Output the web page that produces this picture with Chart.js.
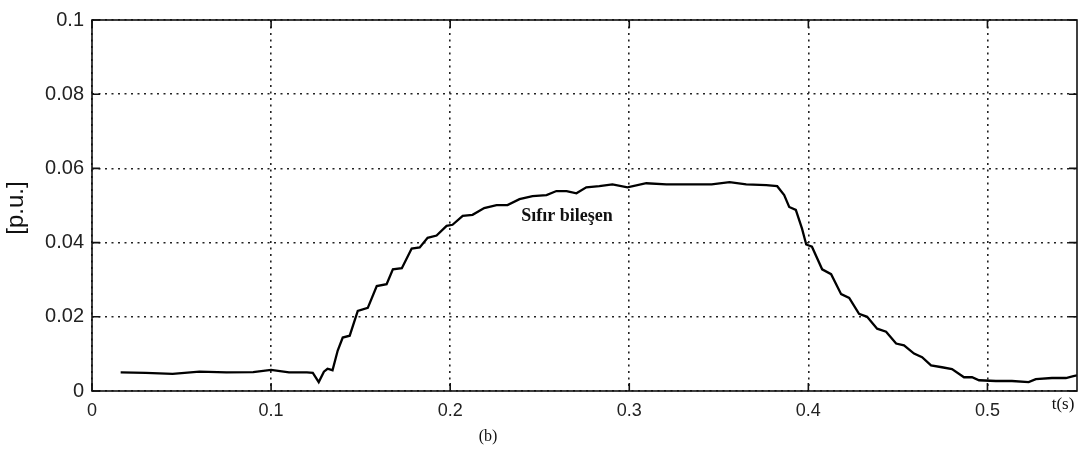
<!DOCTYPE html>
<html>
<head>
<meta charset="utf-8">
<script src="https://cdn.jsdelivr.net/npm/chart.js@4/dist/chart.umd.min.js"></script>
<style>
  html, body { margin: 0; padding: 0; background: #fff; }
  #wrap { width: 1091px; height: 458px; }
</style>
</head>
<body>
<div id="wrap"><canvas id="zeroChart" width="1091" height="458"></canvas></div>
<script>
// time (s) and zero-sequence component (p.u.)
const timeValues = [
    0.016, 0.03, 0.045, 0.06, 0.075, 0.09, 0.1, 0.11, 0.12, 0.1233,
    0.1266, 0.1295, 0.1315, 0.1343, 0.1372, 0.140, 0.1439, 0.1484, 0.154, 0.159,
    0.1645, 0.168, 0.173, 0.1785, 0.183, 0.1874, 0.1924, 0.198, 0.2013, 0.207,
    0.2125, 0.219, 0.2259, 0.232, 0.2387, 0.246, 0.2538, 0.2593, 0.265, 0.2705,
    0.276, 0.2833, 0.2906, 0.299, 0.3095, 0.3207, 0.3335, 0.346, 0.356, 0.3653,
    0.3765, 0.3826, 0.3865, 0.3893, 0.393, 0.3965, 0.3988, 0.402, 0.4077, 0.4127,
    0.4183, 0.4228, 0.4283, 0.4328, 0.4384, 0.4434, 0.449, 0.4534, 0.459, 0.4635,
    0.4685, 0.4746, 0.4802, 0.4869, 0.4914, 0.4953, 0.5047, 0.5137, 0.523, 0.527,
    0.536, 0.5438, 0.548, 0.55
];
const zeroSeq = [
    0.0050, 0.0049, 0.0046, 0.0052, 0.0050, 0.0051, 0.0057, 0.0050, 0.0050, 0.0049,
    0.0024, 0.0052, 0.0060, 0.0056, 0.0109, 0.0144, 0.0149, 0.0216, 0.0224, 0.0283,
    0.0288, 0.0328, 0.0331, 0.0384, 0.0387, 0.0413, 0.0419, 0.0445, 0.0448, 0.0472,
    0.0475, 0.0493, 0.0501, 0.0501, 0.0517, 0.0525, 0.0528, 0.0539, 0.0539, 0.0533,
    0.0549, 0.0552, 0.0557, 0.0549, 0.0560, 0.0557, 0.0557, 0.0557, 0.0563, 0.0557,
    0.0555, 0.0552, 0.0528, 0.0496, 0.0488, 0.0437, 0.0395, 0.0389, 0.0328, 0.0315,
    0.0261, 0.0251, 0.0208, 0.0200, 0.0168, 0.0160, 0.0128, 0.0123, 0.0101, 0.0091,
    0.0069, 0.0064, 0.0059, 0.0037, 0.0037, 0.0029, 0.0027, 0.0027, 0.0024, 0.0032,
    0.0035, 0.0035, 0.0040, 0.0042
];
const xTicks = [0, 0.1, 0.2, 0.3, 0.4, 0.5];
const yTicks = [0, 0.02, 0.04, 0.06, 0.08, 0.1];
const yTickLabels = ['0', '0.02', '0.04', '0.06', '0.08', '0.1'];
const xTickLabels = ['0', '0.1', '0.2', '0.3', '0.4', '0.5'];

const points = timeValues.map((t, i) => ({ x: t, y: zeroSeq[i] }));

// frame, inward ticks and loose labels like the MATLAB figure
const matlabFrame = {
    id: 'matlabFrame',
    afterDraw(chart) {
        const { ctx, chartArea: a, scales } = chart;
        const len = 8;
        ctx.save();
        ctx.strokeStyle = '#111';
        ctx.lineWidth = 1.6;
        ctx.strokeRect(a.left, a.top, a.right - a.left, a.bottom - a.top);
        ctx.beginPath();
        xTicks.forEach(v => {
            const px = scales.x.getPixelForValue(v);
            ctx.moveTo(px, a.bottom); ctx.lineTo(px, a.bottom - len);
            ctx.moveTo(px, a.top); ctx.lineTo(px, a.top + len);
        });
        yTicks.forEach(v => {
            const py = scales.y.getPixelForValue(v);
            ctx.moveTo(a.left, py); ctx.lineTo(a.left + len, py);
            ctx.moveTo(a.right, py); ctx.lineTo(a.right - len, py);
        });
        ctx.stroke();

        ctx.fillStyle = '#111';
        ctx.font = '24px "Liberation Sans", Arial, sans-serif';
        ctx.save();
        ctx.translate(16, 208);
        ctx.rotate(-Math.PI / 2);
        ctx.textAlign = 'center';
        ctx.textBaseline = 'middle';
        ctx.fillText('[p.u.]', 0, 0);
        ctx.restore();

        ctx.font = '17px "Liberation Serif", "Times New Roman", serif';
        ctx.textAlign = 'center';
        ctx.textBaseline = 'middle';
        ctx.fillText('t(s)', 1063, 405);
        ctx.font = '16px "Liberation Serif", "Times New Roman", serif';
        ctx.fillText('(b)', 488, 437);

        ctx.font = 'bold 18px "Liberation Serif", "Times New Roman", serif';
        ctx.fillText('Sıfır bileşen', 567, 216);
        ctx.restore();
    }
};

new Chart(document.getElementById('zeroChart').getContext('2d'), {
    type: 'line',
    data: {
        datasets: [{
            label: 'Sıfır bileşen',
            data: points,
            borderColor: '#000',
            borderWidth: 2.3,
            pointRadius: 0,
            tension: 0,
            fill: false
        }]
    },
    options: {
        responsive: false,
        animation: false,
        layout: { padding: { top: 16, right: 14, left: 0, bottom: 0 } },
        plugins: { legend: { display: false }, tooltip: { enabled: false } },
        scales: {
            x: {
                type: 'linear',
                min: 0,
                max: 0.55,
                afterBuildTicks: s => { s.ticks = xTicks.map(v => ({ value: v })); },
                afterFit: s => { s.height = 67; },
                border: { display: false, dash: [2, 4.5] },
                grid: { drawTicks: false, color: '#222', lineWidth: 1.6 },
                ticks: {
                    padding: 9,
                    maxRotation: 0,
                    color: '#222',
                    font: { family: '"Liberation Sans", Arial, sans-serif', size: 18 },
                    callback: v => xTickLabels[xTicks.indexOf(v)]
                }
            },
            y: {
                min: 0,
                max: 0.1,
                afterBuildTicks: s => { s.ticks = yTicks.map(v => ({ value: v })); },
                afterFit: s => { s.width = 92; },
                border: { display: false, dash: [2, 4.5] },
                grid: { drawTicks: false, color: '#222', lineWidth: 1.6 },
                ticks: {
                    padding: 8,
                    color: '#222',
                    font: { family: '"Liberation Sans", Arial, sans-serif', size: 20 },
                    callback: v => yTickLabels[yTicks.indexOf(v)]
                }
            }
        }
    },
    plugins: [matlabFrame]
});
</script>
</body>
</html>
